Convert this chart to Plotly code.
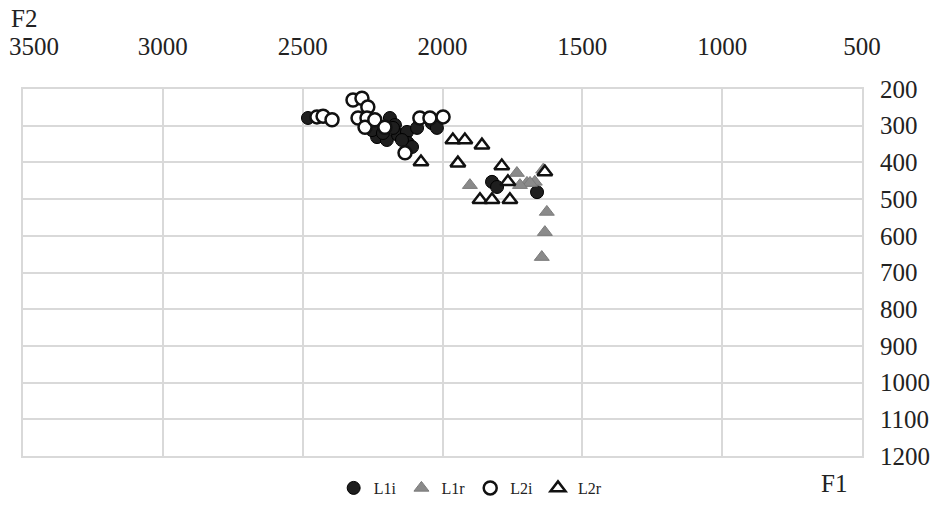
import plotly.graph_objects as go

# F2 (x) and F1 (y) values
l1i_f2 = [2481, 2234, 2199, 2188, 2170, 2159, 2127, 2124, 2109, 2091, 2038, 2020,
          2252, 2213, 2177, 2145, 1823, 1805, 1662]
l1i_f1 = [279, 331, 339, 279, 298, 325, 317, 347, 358, 306, 293, 306,
          312, 320, 306, 339, 453, 467, 481]

l1r_f2 = [1902, 1734, 1698, 1670, 1687, 1627, 1634, 1645, 1640, 1723]
l1r_f1 = [462, 429, 456, 453, 456, 535, 590, 658, 420, 462]

l2i_f2 = [2449, 2427, 2395, 2320, 2288, 2267, 2302, 2270, 2277, 2242, 2206, 2134,
          2081, 2045, 1998]
l2i_f1 = [276, 274, 284, 230, 225, 249, 279, 279, 304, 284, 304, 374,
          279, 279, 276]

l2r_f2 = [2077, 1963, 1920, 1859, 1945, 1788, 1766, 1866, 1823, 1759, 1634]
l2r_f1 = [399, 339, 339, 353, 402, 410, 453, 502, 502, 502, 426]

x_ticks = [3500, 3000, 2500, 2000, 1500, 1000, 500]
y_ticks = [200, 300, 400, 500, 600, 700, 800, 900, 1000, 1100, 1200]

FONT = "Liberation Serif"

fig = go.Figure()
fig.add_trace(go.Scatter(x=l1i_f2, y=l1i_f1, mode="markers", name="L1i",
                         marker=dict(symbol="circle", size=13, color="#1e1e1e",
                                     line=dict(color="#000000", width=1))))
fig.add_trace(go.Scatter(x=l1r_f2, y=l1r_f1, mode="markers", name="L1r",
                         marker=dict(symbol="triangle-up", size=13, color="#8a8a8a",
                                     line=dict(color="#7a7a7a", width=1))))
fig.add_trace(go.Scatter(x=l2i_f2, y=l2i_f1, mode="markers", name="L2i",
                         marker=dict(symbol="circle", size=13, color="#ffffff",
                                     line=dict(color="#111111", width=2.5))))
fig.add_trace(go.Scatter(x=l2r_f2, y=l2r_f1, mode="markers", name="L2r",
                         marker=dict(symbol="triangle-up", size=13, color="#ffffff",
                                     line=dict(color="#111111", width=2.5))))

# the leftmost x tick label sits right of its gridline in the reference
x_ticktext = [""] + [str(v) for v in x_ticks[1:]]

fig.update_layout(
    width=932, height=511,
    margin=dict(l=23, r=70, t=89, b=55, autoexpand=False),
    paper_bgcolor="white", plot_bgcolor="white",
    font=dict(family=FONT, size=25, color="#222222"),
    showlegend=True,
    legend=dict(orientation="h", xref="container", yref="container",
                x=0.505, xanchor="center", y=0.045, yanchor="middle",
                font=dict(family=FONT, size=16, color="#222222"),
                itemwidth=30, tracegroupgap=0, bgcolor="rgba(0,0,0,0)"),
    xaxis=dict(range=[3500, 500], side="top", tickvals=x_ticks,
               ticktext=x_ticktext,
               showgrid=True, gridcolor="#d9d9d9", gridwidth=2,
               showline=True, linecolor="#d9d9d9", linewidth=2, mirror=True,
               zeroline=False, ticks="", ticklabelstandoff=22,
               ticklabeloverflow="allow", automargin=False,
               tickfont=dict(family=FONT, size=25, color="#222222")),
    yaxis=dict(range=[1200, 200], side="right", tickvals=y_ticks,
               ticktext=[str(v) for v in y_ticks],
               showgrid=True, gridcolor="#d9d9d9", gridwidth=2,
               showline=True, linecolor="#d9d9d9", linewidth=2, mirror=True,
               zeroline=False, ticks="", ticklabelstandoff=11,
               ticklabeloverflow="allow", automargin=False,
               tickfont=dict(family=FONT, size=25, color="#222222")),
    annotations=[
        dict(text=str(x_ticks[0]), xref="x", yref="paper", x=x_ticks[0], y=1.115,
             xanchor="left", yanchor="middle", xshift=-16, showarrow=False,
             font=dict(family=FONT, size=25, color="#222222")),
        dict(text="F2", xref="paper", yref="paper", x=-0.017, y=1.193,
             xanchor="left", yanchor="middle", showarrow=False,
             font=dict(family=FONT, size=25, color="#222222")),
        dict(text="F1", xref="paper", yref="paper", x=0.967, y=-0.076,
             xanchor="center", yanchor="middle", showarrow=False,
             font=dict(family=FONT, size=25, color="#222222")),
    ],
)

fig.write_html("out.html")
